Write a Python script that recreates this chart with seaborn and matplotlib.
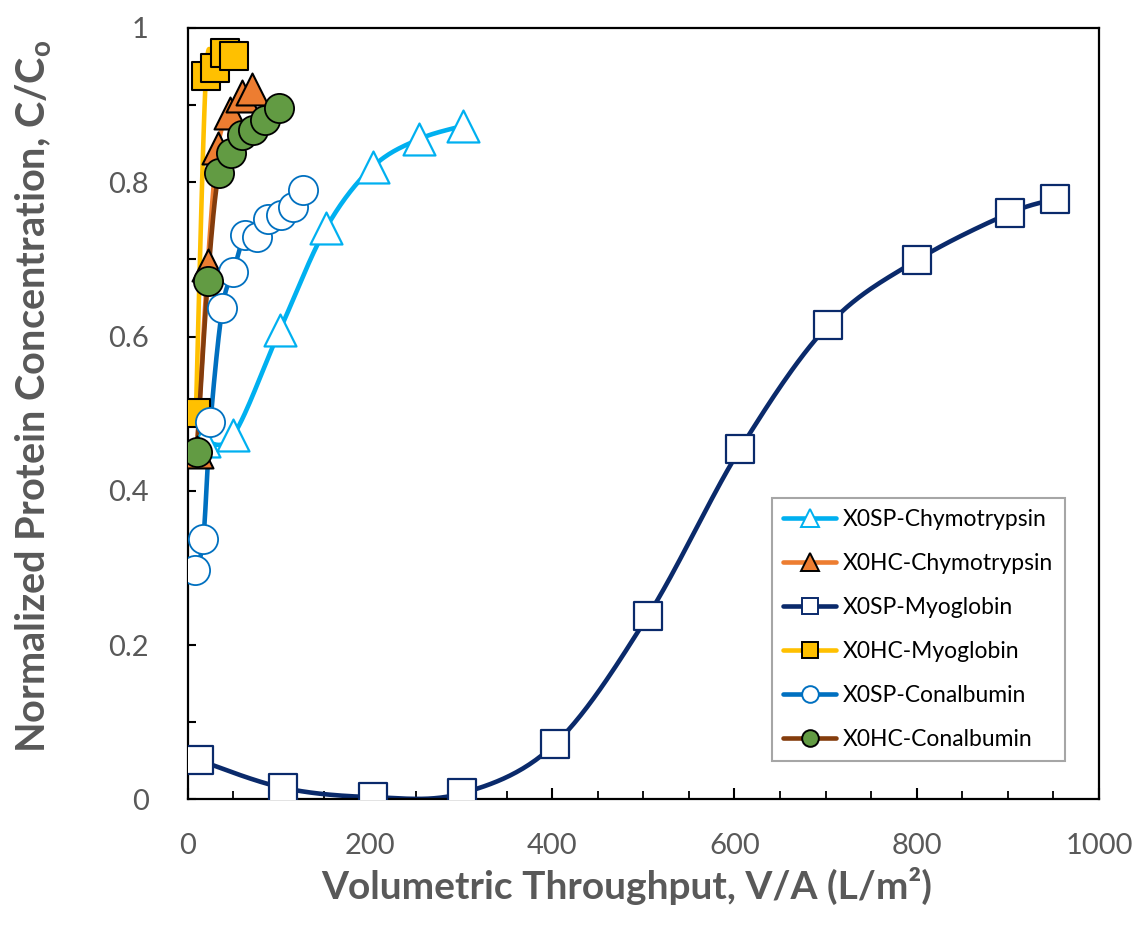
import numpy as np
import pandas as pd
import matplotlib
matplotlib.use("Agg")
import matplotlib.pyplot as plt
from matplotlib.lines import Line2D
from matplotlib.ticker import MultipleLocator
from matplotlib.font_manager import FontProperties
import seaborn as sns

# ---------------- data ----------------
sp_chymo_x = [18, 50, 101, 152, 203, 254, 302]
sp_chymo_y = [0.465, 0.472, 0.608, 0.741, 0.820, 0.856, 0.873]

hc_chymo_x = [10, 22, 33, 46, 60, 71]
hc_chymo_y = [0.450, 0.693, 0.845, 0.890, 0.912, 0.921]

sp_myo_x = [12, 105, 203, 301, 403, 505, 606, 703, 800, 902, 952]
sp_myo_y = [0.051, 0.015, 0.003, 0.008, 0.072, 0.238, 0.454, 0.615, 0.699, 0.760, 0.778]

hc_myo_x = [9, 20, 30, 41, 51]
hc_myo_y = [0.501, 0.938, 0.948, 0.967, 0.964]

sp_conal_x = [8, 17, 25, 38, 50, 63, 76, 88, 102, 115, 126]
sp_conal_y = [0.297, 0.337, 0.489, 0.637, 0.684, 0.732, 0.729, 0.752, 0.757, 0.768, 0.790]

hc_conal_x = [10, 22, 34, 48, 60, 72, 85, 100]
hc_conal_y = [0.450, 0.672, 0.812, 0.838, 0.861, 0.868, 0.881, 0.896]

labels = ["X0SP-Chymotrypsin", "X0HC-Chymotrypsin", "X0SP-Myoglobin",
          "X0HC-Myoglobin", "X0SP-Conalbumin", "X0HC-Conalbumin"]

x_ticks = [0, 200, 400, 600, 800, 1000]
y_ticks = [0, 0.2, 0.4, 0.6, 0.8, 1]
y_tick_labels = ["0", "0.2", "0.4", "0.6", "0.8", "1"]

# ---------------- style ----------------
sns.set_theme(style="white")
plt.rcParams["font.family"] = ["Lato", "DejaVu Sans"]
plt.rcParams["mathtext.fontset"] = "custom"
plt.rcParams["mathtext.rm"] = "Lato:bold"
plt.rcParams["mathtext.bf"] = "Lato:bold"

GRAY = "#595959"

series = [
    dict(x=sp_chymo_x, y=sp_chymo_y, line="#00B0F0", marker="^", face="white", edge="#00B0F0", ms=23, mew=1.6),
    dict(x=hc_chymo_x, y=hc_chymo_y, line="#ED7D31", marker="^", face="#ED7D31", edge="black", ms=23, mew=1.5),
    dict(x=sp_myo_x, y=sp_myo_y, line="#0A2A6B", marker="s", face="white", edge="#0A2A6B", ms=20, mew=1.6),
    dict(x=hc_myo_x, y=hc_myo_y, line="#FFC000", marker="s", face="#FFC000", edge="black", ms=20, mew=1.5),
    dict(x=sp_conal_x, y=sp_conal_y, line="#0070C0", marker="o", face="white", edge="#0070C0", ms=21, mew=1.3),
    dict(x=hc_conal_x, y=hc_conal_y, line="#843C0C", marker="o", face="#629B43", edge="black", ms=21, mew=1.3),
]

fig = plt.figure(figsize=(11.39, 9.32), dpi=100)
ax = fig.add_axes([0.1648, 0.1422, 0.8001, 0.8278])
ax.set_xlim(0, 1000)
ax.set_ylim(0, 1)

# pixel scale for smoothing (Excel-style Bezier smoothing)
SX, SY = 911.3 / 1000.0, 771.5


def smooth(xs, ys, n=30):
    p = np.column_stack([np.asarray(xs, float) * SX, np.asarray(ys, float) * SY])
    if len(p) < 3:
        return p[:, 0] / SX, p[:, 1] / SY
    out = [p[0]]
    for i in range(len(p) - 1):
        p0 = p[i - 1] if i > 0 else p[i]
        p1, p2 = p[i], p[i + 1]
        p3 = p[i + 2] if i + 2 < len(p) else p[i + 1]
        c1 = p1 + (p2 - p0) / 6.0
        c2 = p2 - (p3 - p1) / 6.0
        t = np.linspace(0, 1, n)[1:, None]
        seg = ((1 - t) ** 3) * p1 + 3 * ((1 - t) ** 2) * t * c1 + 3 * (1 - t) * t ** 2 * c2 + t ** 3 * p2
        out.extend(seg)
    out = np.array(out)
    return out[:, 0] / SX, out[:, 1] / SY


for s in series:
    cx, cy = smooth(s["x"], s["y"])
    sns.lineplot(x=cx, y=cy, sort=False, estimator=None, color=s["line"], lw=3.3, ax=ax,
                 legend=False)
    df = pd.DataFrame({"x": s["x"], "y": s["y"]})
    sns.scatterplot(data=df, x="x", y="y", marker=s["marker"], s=s["ms"] ** 2,
                    facecolor=s["face"], edgecolor=s["edge"], linewidth=s["mew"], ax=ax,
                    legend=False, zorder=3)

# ---------------- axes ----------------
for sp in ax.spines.values():
    sp.set_visible(True)
    sp.set_color("black")
    sp.set_linewidth(1.6)

ax.set_xticks(x_ticks)
ax.set_xticklabels([str(v) for v in x_ticks])
ax.set_yticks(y_ticks)
ax.set_yticklabels(y_tick_labels)
ax.xaxis.set_minor_locator(MultipleLocator(50))
ax.yaxis.set_minor_locator(MultipleLocator(0.1))
ax.tick_params(axis="x", which="major", direction="in", length=8, width=1.5, color="black",
               bottom=True, top=False, pad=24, labelsize=21, labelcolor=GRAY)
ax.tick_params(axis="x", which="minor", direction="in", length=5.5, width=1.3, color="black",
               bottom=True, top=False)
ax.tick_params(axis="y", which="major", direction="in", length=5.5, width=1.5, color="black",
               left=True, right=False, pad=28, labelsize=21, labelcolor=GRAY)
ax.tick_params(axis="y", which="minor", direction="in", length=5.5, width=1.5, color="black",
               left=True, right=False)

ax.set_xlabel("Volumetric Throughput, V/A (L/m²)", fontsize=28, fontweight="bold",
              color=GRAY)
ax.set_ylabel(r"Normalized Protein Concentration, C/C$_\mathrm{o}$", fontsize=28.5,
              fontweight="bold", color=GRAY)
ax.xaxis.set_label_coords(0.482, -0.087)
ax.yaxis.set_label_coords(-0.147, 0.522)

# ---------------- legend ----------------
handles = []
for s, lab in zip(series, labels):
    handles.append(Line2D([0], [0], color=s["line"], lw=3.3, marker=s["marker"],
                          markersize=12 if s["marker"] != "^" else 13,
                          markerfacecolor=s["face"], markeredgecolor=s["edge"],
                          markeredgewidth=1.4, label=lab))
leg = ax.legend(handles=handles, loc="upper left", bbox_to_anchor=(0.641, 0.391),
                prop=FontProperties(family="Lato", size=16.5), frameon=True, fancybox=False,
                edgecolor="#A6A6A6", framealpha=1, handlelength=2.3, handletextpad=0.3,
                labelspacing=1.0, borderpad=0.5, borderaxespad=0)
leg.get_frame().set_linewidth(1.5)
for t in leg.get_texts():
    t.set_color("black")

fig.savefig("out.png", dpi=100)
